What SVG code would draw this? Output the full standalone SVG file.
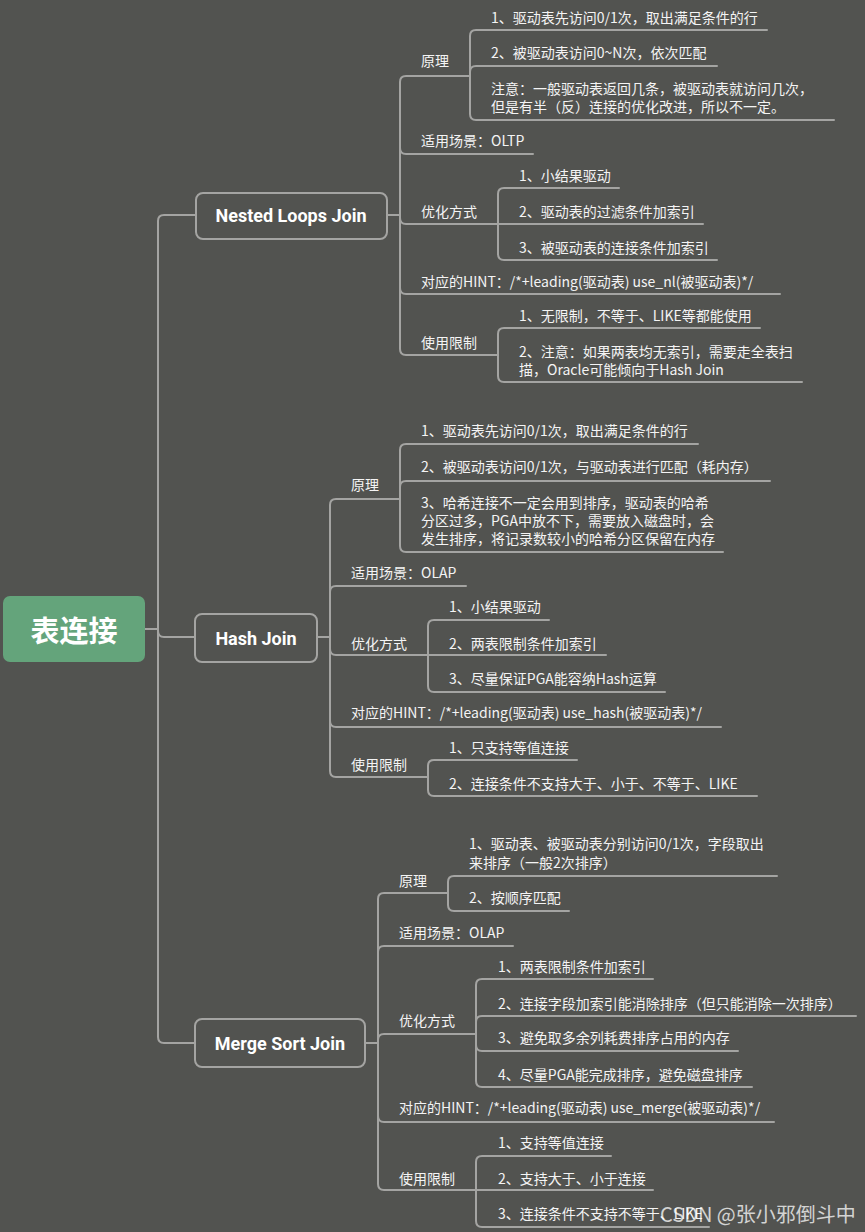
<svg xmlns="http://www.w3.org/2000/svg" width="865" height="1232" viewBox="0 0 865 1232">
<style>
.bg{fill:#525350}
.ln{fill:none;stroke:#a4a4a2;stroke-width:2;stroke-linecap:round}
.box{fill:#525350;stroke:#a4a4a2;stroke-width:2}
.root{fill:#64a47b}
.t{font-family:"Noto Sans CJK SC","Noto Sans",sans-serif;font-size:14px;fill:#f4f4f4;dominant-baseline:central}
.h{font-family:Roboto,"Noto Sans",sans-serif;font-weight:bold;font-size:18px;fill:#ffffff;text-anchor:middle;dominant-baseline:central}
.r{font-family:"Noto Sans CJK SC",sans-serif;font-weight:bold;font-size:29px;fill:#ffffff;text-anchor:middle;dominant-baseline:central}
.wm{font-family:"Noto Sans CJK SC","Noto Sans",sans-serif;font-size:20px;fill:#ffffff;fill-opacity:0.75;dominant-baseline:central}
</style>
<rect class="bg" x="0" y="0" width="865" height="1232"/>
<g id="connectors">
<path class="ln" d="M145,629 H158 V221 Q158,215 164,215 H196"/>
<path class="ln" d="M145,629 H158 V631 Q158,637 164,637 H195"/>
<path class="ln" d="M145,629 H158 V1037 Q158,1043 164,1043 H195"/>
<path class="ln" d="M387,215 H400 V82 Q400,76 406,76 H470"/>
<path class="ln" d="M387,215 H400 V148 Q400,154 406,154 H533"/>
<path class="ln" d="M387,215 H400 V218 Q400,224 406,224 H498"/>
<path class="ln" d="M387,215 H400 V288 Q400,294 406,294 H780"/>
<path class="ln" d="M387,215 H400 V349 Q400,355 406,355 H498"/>
<path class="ln" d="M470,76 V36 Q470,30 476,30 H767"/>
<path class="ln" d="M470,76 V72 Q470,66 476,66 H717"/>
<path class="ln" d="M470,76 V114 Q470,120 476,120 H834"/>
<path class="ln" d="M498,224 V194 Q498,188 504,188 H619"/>
<path class="ln" d="M498,224 H703"/>
<path class="ln" d="M498,224 V254 Q498,260 504,260 H717"/>
<path class="ln" d="M498,355 V334 Q498,328 504,328 H760"/>
<path class="ln" d="M498,355 V376 Q498,382 504,382 H802"/>
<path class="ln" d="M317,637 H330 V505 Q330,499 336,499 H400"/>
<path class="ln" d="M317,637 H330 V592 Q330,586 336,586 H466"/>
<path class="ln" d="M317,637 H330 V649 Q330,655 336,655 H428"/>
<path class="ln" d="M317,637 H330 V721 Q330,727 336,727 H721"/>
<path class="ln" d="M317,637 H330 V771 Q330,777 336,777 H428"/>
<path class="ln" d="M400,499 V450 Q400,444 406,444 H698"/>
<path class="ln" d="M400,499 V487 Q400,481 406,481 H770"/>
<path class="ln" d="M400,499 V546 Q400,552 406,552 H723"/>
<path class="ln" d="M428,655 V626 Q428,620 434,620 H549"/>
<path class="ln" d="M428,655 H606"/>
<path class="ln" d="M428,655 V686 Q428,692 434,692 H665"/>
<path class="ln" d="M428,777 V766 Q428,760 434,760 H577"/>
<path class="ln" d="M428,777 V790 Q428,796 434,796 H757"/>
<path class="ln" d="M365,1043 H378 V899 Q378,893 384,893 H448"/>
<path class="ln" d="M365,1043 H378 V952 Q378,946 384,946 H513"/>
<path class="ln" d="M365,1043 H378 V1040 Q378,1034 384,1034 H476"/>
<path class="ln" d="M365,1043 H378 V1116 Q378,1122 384,1122 H774"/>
<path class="ln" d="M365,1043 H378 V1184 Q378,1190 384,1190 H476"/>
<path class="ln" d="M448,893 V882 Q448,876 454,876 H777"/>
<path class="ln" d="M448,893 V905 Q448,911 454,911 H569"/>
<path class="ln" d="M476,1034 V985 Q476,979 482,979 H653"/>
<path class="ln" d="M476,1034 V1022 Q476,1016 482,1016 H856"/>
<path class="ln" d="M476,1034 V1045 Q476,1051 482,1051 H738"/>
<path class="ln" d="M476,1034 V1081 Q476,1087 482,1087 H752"/>
<path class="ln" d="M476,1190 V1162 Q476,1156 482,1156 H611"/>
<path class="ln" d="M476,1190 H653"/>
<path class="ln" d="M476,1190 V1221 Q476,1227 482,1227 H709"/>
</g>
<g id="root"><rect class="root" x="3" y="596" width="142" height="66" rx="7"/><text class="r" x="74" y="629">表连接</text></g>
<g id="nested"><rect class="box" x="196" y="193" width="191" height="46" rx="7"/><text class="h" x="291" y="215">Nested Loops Join</text></g>
<g id="hash"><rect class="box" x="195" y="614" width="122" height="48" rx="7"/><text class="h" x="256" y="638">Hash Join</text></g>
<g id="merge"><rect class="box" x="195" y="1019" width="170" height="48" rx="7"/><text class="h" x="280" y="1043">Merge Sort Join</text></g>
<g id="nl-children">
<text class="t" x="421" y="60">原理</text>
<text class="t" x="491" y="17">1、驱动表先访问0/1次，取出满足条件的行</text>
<text class="t" x="491" y="52">2、被驱动表访问0~N次，依次匹配</text>
<text class="t" x="491"><tspan x="491" y="88">注意：一般驱动表返回几条，被驱动表就访问几次，</tspan><tspan x="491" y="106">但是有半（反）连接的优化改进，所以不一定。</tspan></text>
<text class="t" x="421" y="140">适用场景：OLTP</text>
<text class="t" x="421" y="211">优化方式</text>
<text class="t" x="519" y="175">1、小结果驱动</text>
<text class="t" x="519" y="211">2、驱动表的过滤条件加索引</text>
<text class="t" x="519" y="247">3、被驱动表的连接条件加索引</text>
<text class="t" x="421" y="281">对应的HINT：/*+leading(驱动表) use_nl(被驱动表)*/</text>
<text class="t" x="421" y="342">使用限制</text>
<text class="t" x="519" y="315">1、无限制，不等于、LIKE等都能使用</text>
<text class="t" x="519"><tspan x="519" y="351">2、注意：如果两表均无索引，需要走全表扫</tspan><tspan x="519" y="369">描，Oracle可能倾向于Hash Join</tspan></text>
</g>
<g id="hash-children">
<text class="t" x="351" y="484">原理</text>
<text class="t" x="421" y="430">1、驱动表先访问0/1次，取出满足条件的行</text>
<text class="t" x="421" y="466">2、被驱动表访问0/1次，与驱动表进行匹配（耗内存）</text>
<text class="t" x="421"><tspan x="421" y="502">3、哈希连接不一定会用到排序，驱动表的哈希</tspan><tspan x="421" y="520">分区过多，PGA中放不下，需要放入磁盘时，会</tspan><tspan x="421" y="538">发生排序，将记录数较小的哈希分区保留在内存</tspan></text>
<text class="t" x="351" y="572">适用场景：OLAP</text>
<text class="t" x="351" y="643">优化方式</text>
<text class="t" x="449" y="606">1、小结果驱动</text>
<text class="t" x="449" y="643">2、两表限制条件加索引</text>
<text class="t" x="449" y="678">3、尽量保证PGA能容纳Hash运算</text>
<text class="t" x="351" y="712">对应的HINT：/*+leading(驱动表) use_hash(被驱动表)*/</text>
<text class="t" x="351" y="764">使用限制</text>
<text class="t" x="449" y="747">1、只支持等值连接</text>
<text class="t" x="449" y="783">2、连接条件不支持大于、小于、不等于、LIKE</text>
</g>
<g id="merge-children">
<text class="t" x="399" y="880">原理</text>
<text class="t" x="469"><tspan x="469" y="843">1、驱动表、被驱动表分别访问0/1次，字段取出</tspan><tspan x="469" y="862">来排序（一般2次排序）</tspan></text>
<text class="t" x="469" y="897">2、按顺序匹配</text>
<text class="t" x="399" y="932">适用场景：OLAP</text>
<text class="t" x="399" y="1020">优化方式</text>
<text class="t" x="498" y="966">1、两表限制条件加索引</text>
<text class="t" x="498" y="1003">2、连接字段加索引能消除排序（但只能消除一次排序）</text>
<text class="t" x="498" y="1037">3、避免取多余列耗费排序占用的内存</text>
<text class="t" x="498" y="1074">4、尽量PGA能完成排序，避免磁盘排序</text>
<text class="t" x="399" y="1107">对应的HINT：/*+leading(驱动表) use_merge(被驱动表)*/</text>
<text class="t" x="399" y="1178">使用限制</text>
<text class="t" x="498" y="1142">1、支持等值连接</text>
<text class="t" x="498" y="1178">2、支持大于、小于连接</text>
<text class="t" x="498" y="1213">3、连接条件不支持不等于、LIKE</text>
</g>
<text class="wm" x="660" y="1213">CSDN @张小邪倒斗中</text>
</svg>
